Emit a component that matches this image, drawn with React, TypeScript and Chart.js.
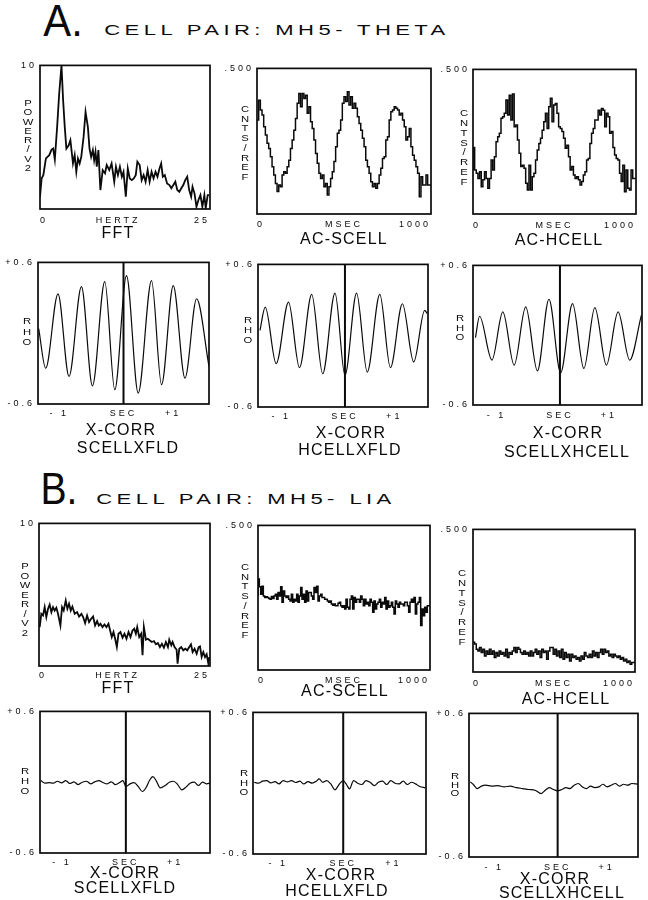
import React, { useEffect, useRef } from 'react';
import { Chart, registerables } from 'chart.js';

Chart.register(...registerables);
Chart.defaults.font.family = '"Liberation Sans", Arial, sans-serif';

// ---------------- data ----------------
// FFT power spectra: [hertz, power]
const fftTheta: [number, number][] = [
  [0, 0.86], [0.24, 2.13], [0.49, 2.36], [0.87, 3.52], [1.36, 3.75], [1.7, 4.14], [1.94, 4.21], [2.18, 3.45],
  [2.52, 5.72], [2.82, 8.03], [3.16, 10.0], [3.4, 7.57], [3.64, 5.72], [3.88, 4.21], [4.22, 4.44], [4.47, 4.79],
  [4.61, 4.21], [4.85, 3.17], [5.1, 3.75], [5.34, 2.59], [5.58, 3.52], [5.83, 3.17], [6.07, 3.63], [6.41, 5.02],
  [6.7, 6.76], [7.04, 5.72], [7.28, 4.21], [7.52, 3.63], [7.77, 4.1], [7.96, 3.4], [8.16, 3.98], [8.35, 2.94],
  [8.59, 4.1], [8.88, 1.32], [9.22, 2.71], [9.56, 2.48], [9.81, 3.06], [10.19, 2.71], [10.53, 3.17], [10.92, 1.9],
  [11.17, 2.94], [11.46, 2.36], [11.75, 2.94], [12.04, 2.25], [12.28, 2.59], [12.62, 0.86], [12.91, 2.82], [13.2, 2.13],
  [13.5, 2.01], [13.79, 2.13], [14.08, 2.36], [14.32, 3.29], [14.66, 3.06], [14.95, 2.01], [15.24, 2.36], [15.53, 1.9],
  [15.83, 2.71], [16.12, 1.9], [16.41, 2.59], [16.7, 2.13], [16.99, 2.59], [17.28, 2.25], [17.57, 2.82], [17.82, 3.17],
  [18.06, 2.25], [18.35, 2.36], [18.69, 1.78], [19.03, 1.67], [19.32, 1.44], [19.61, 1.67], [19.9, 1.9], [20.19, 1.32],
  [20.49, 1.2], [20.78, 1.44], [21.07, 1.67], [21.36, 2.01], [21.65, 2.25], [21.94, 1.32], [22.23, 0.86], [22.43, 1.55],
  [22.72, 1.09], [23.01, 0.16], [23.3, 0.63], [23.59, 0.97], [23.88, 0.16], [24.17, 0.97], [24.37, 0.05], [24.66, 0.97],
  [24.85, 0.97],
];
const fftLia: [number, number][] = [
  [0.1, 2.73], [0.34, 3.66], [0.59, 3.54], [0.83, 4.13], [1.07, 3.43], [1.32, 4.01], [1.56, 4.31], [1.81, 3.78],
  [2.05, 4.13], [2.29, 3.89], [2.54, 4.08], [2.78, 3.66], [3.13, 2.84], [3.37, 4.13], [3.61, 3.89], [3.91, 4.59],
  [4.15, 4.01], [4.39, 4.36], [4.64, 3.89], [4.88, 4.17], [5.22, 3.66], [5.57, 3.78], [5.86, 3.47], [6.2, 3.66],
  [6.45, 3.43], [6.74, 3.01], [7.03, 3.54], [7.32, 3.08], [7.62, 3.31], [7.91, 3.47], [8.2, 2.84], [8.5, 3.15],
  [8.74, 2.84], [8.98, 2.96], [9.28, 2.73], [9.57, 2.91], [9.86, 2.73], [10.16, 2.96], [10.4, 2.49], [10.64, 2.03],
  [10.89, 2.38], [11.13, 1.91], [11.38, 1.33], [11.62, 2.26], [11.91, 2.38], [12.21, 1.98], [12.5, 2.26], [12.79, 1.91],
  [13.09, 2.38], [13.38, 2.03], [13.67, 2.49], [13.92, 2.61], [14.16, 2.26], [14.36, 2.73], [14.65, 2.03], [14.94, 2.26],
  [15.14, 0.75], [15.33, 2.73], [15.63, 1.84], [15.92, 1.91], [16.21, 1.79], [16.5, 1.68], [16.8, 1.75], [17.09, 1.52],
  [17.38, 1.61], [17.68, 1.33], [17.97, 1.56], [18.26, 1.28], [18.55, 1.68], [18.85, 1.33], [19.04, 1.84], [19.34, 1.45],
  [19.53, 1.68], [19.82, 1.33], [20.12, 1.14], [20.26, 0.16], [20.51, 1.21], [20.8, 1.33], [21.09, 1.1], [21.39, 1.21],
  [21.68, 1.1], [21.97, 1.33], [22.22, 1.52], [22.46, 0.98], [22.75, 1.21], [23.05, 0.86], [23.34, 1.33], [23.54, 1.38],
  [23.78, 0.63], [24.02, 0.98], [24.27, 0.63], [24.51, 0.82], [24.76, 0.16], [24.9, 0.63],
];

// Autocorrelation histograms (counts / ref), equal bins across 0..1000 ms
const acScellTheta = [
  0.323, 0.323, 0.391, 0.357, 0.34, 0.3, 0.271, 0.243, 0.225, 0.197, 0.162, 0.134, 0.105, 0.077, 0.1, 0.094,
  0.134, 0.145, 0.14, 0.162, 0.185, 0.225, 0.254, 0.288, 0.328, 0.38, 0.414, 0.368, 0.414, 0.397, 0.408, 0.346,
  0.368, 0.317, 0.294, 0.254, 0.208, 0.174, 0.14, 0.122, 0.134, 0.094, 0.105, 0.065, 0.094, 0.122, 0.145, 0.18,
  0.231, 0.277, 0.288, 0.323, 0.38, 0.403, 0.386, 0.42, 0.374, 0.403, 0.363, 0.38, 0.363, 0.334, 0.311, 0.288,
  0.26, 0.231, 0.185, 0.162, 0.14, 0.111, 0.094, 0.105, 0.088, 0.105, 0.134, 0.157, 0.191, 0.197, 0.254, 0.265,
  0.323, 0.351, 0.357, 0.368, 0.363, 0.357, 0.34, 0.346, 0.323, 0.3, 0.254, 0.265, 0.294, 0.231, 0.202, 0.185,
  0.162, 0.14, 0.059, 0.128, 0.1, 0.1, 0.134, 0.1,
];
const acHcellTheta = [
  0.152, 0.23, 0.152, 0.141, 0.123, 0.146, 0.094, 0.118, 0.146, 0.123, 0.089, 0.123, 0.187, 0.152, 0.198, 0.25,
  0.267, 0.279, 0.331, 0.336, 0.348, 0.394, 0.342, 0.411, 0.325, 0.415, 0.302, 0.308, 0.256, 0.21, 0.164, 0.169,
  0.158, 0.106, 0.083, 0.169, 0.083, 0.129, 0.141, 0.187, 0.221, 0.244, 0.262, 0.29, 0.319, 0.348, 0.296, 0.371,
  0.4, 0.319, 0.377, 0.382, 0.348, 0.302, 0.296, 0.285, 0.262, 0.227, 0.238, 0.198, 0.152, 0.164, 0.135, 0.123,
  0.129, 0.118, 0.1, 0.112, 0.135, 0.146, 0.187, 0.192, 0.244, 0.279, 0.296, 0.325, 0.325, 0.359, 0.342, 0.365,
  0.359, 0.302, 0.348, 0.336, 0.279, 0.285, 0.23, 0.204, 0.192, 0.187, 0.141, 0.112, 0.169, 0.077, 0.152, 0.089,
  0.083, 0.152, 0.123,
];
const acScellLia = [
  0.256, 0.315, 0.288, 0.262, 0.29, 0.256, 0.251, 0.253, 0.251, 0.247, 0.245, 0.254, 0.247, 0.256, 0.262, 0.245,
  0.268, 0.256, 0.288, 0.234, 0.273, 0.256, 0.251, 0.256, 0.245, 0.239, 0.262, 0.234, 0.245, 0.239, 0.262, 0.234,
  0.256, 0.285, 0.245, 0.262, 0.234, 0.273, 0.239, 0.268, 0.268, 0.256, 0.245, 0.285, 0.268, 0.29, 0.239, 0.256,
  0.262, 0.251, 0.251, 0.245, 0.245, 0.239, 0.234, 0.239, 0.228, 0.224, 0.228, 0.222, 0.222, 0.231, 0.234, 0.222,
  0.217, 0.222, 0.211, 0.245, 0.217, 0.211, 0.245, 0.256, 0.211, 0.251, 0.234, 0.245, 0.245, 0.234, 0.256, 0.245,
  0.222, 0.245, 0.228, 0.234, 0.222, 0.245, 0.234, 0.2, 0.239, 0.211, 0.228, 0.234, 0.245, 0.217, 0.234, 0.228,
  0.251, 0.211, 0.239, 0.217, 0.222, 0.234, 0.217, 0.194, 0.239, 0.228, 0.217, 0.234, 0.228, 0.228, 0.222, 0.234,
  0.234, 0.222, 0.2, 0.234, 0.245, 0.234, 0.251, 0.194, 0.228, 0.234, 0.251, 0.154, 0.211, 0.188, 0.217, 0.2,
  0.222,
];
const acHcellLia = [
  0.104, 0.104, 0.098, 0.08, 0.074, 0.086, 0.068, 0.08, 0.056, 0.074, 0.062, 0.08, 0.062, 0.074, 0.051, 0.068,
  0.056, 0.074, 0.062, 0.068, 0.056, 0.08, 0.051, 0.068, 0.062, 0.074, 0.086, 0.068, 0.086, 0.08, 0.068, 0.062,
  0.074, 0.062, 0.068, 0.056, 0.074, 0.056, 0.068, 0.08, 0.062, 0.074, 0.051, 0.08, 0.068, 0.074, 0.045, 0.074,
  0.086, 0.086, 0.062, 0.08, 0.056, 0.074, 0.051, 0.08, 0.045, 0.068, 0.051, 0.062, 0.039, 0.062, 0.051, 0.056,
  0.045, 0.051, 0.039, 0.056, 0.045, 0.068, 0.056, 0.051, 0.062, 0.051, 0.074, 0.056, 0.068, 0.051, 0.068, 0.08,
  0.062, 0.08, 0.068, 0.074, 0.056, 0.062, 0.051, 0.062, 0.056, 0.051, 0.056, 0.045, 0.051, 0.039, 0.045, 0.033,
  0.039, 0.027, 0.033,
];

// Cross-correlations: [lag (normalised, -1..1 of the window), rho]
const xcScellFldTheta: [number, number][] = [
  [-0.992, 0.039], [-0.91, -0.297], [-0.766, 0.334], [-0.637, -0.367], [-0.492, 0.395], [-0.363, -0.446],
  [-0.219, 0.437], [-0.102, -0.479], [0.035, 0.488], [0.172, -0.507], [0.328, 0.446], [0.445, -0.437],
  [0.582, 0.404], [0.719, -0.381], [0.855, 0.292], [1.0, -0.283],
];
const xcHcellFldTheta: [number, number][] = [
  [-1.0, 0.045], [-0.938, 0.241], [-0.809, -0.235], [-0.664, 0.283], [-0.535, -0.269], [-0.391, 0.348],
  [-0.262, -0.32], [-0.117, 0.359], [0, -0.334], [0.137, 0.359], [0.262, -0.306], [0.41, 0.348],
  [0.535, -0.269], [0.676, 0.269], [0.809, -0.221], [0.938, 0.213], [0.969, 0.185],
];
const xcScellHcellTheta: [number, number][] = [
  [-1.0, -0.02], [-0.951, 0.163], [-0.805, -0.214], [-0.676, 0.2], [-0.542, -0.257], [-0.405, 0.243],
  [-0.267, -0.306], [-0.13, 0.309], [0.008, -0.323], [0.149, 0.271], [0.283, -0.286], [0.413, 0.237],
  [0.55, -0.257], [0.688, 0.2], [0.825, -0.214], [0.963, 0.171],
];
const xcScellFldLia: [number, number][] = [
  [-1.0, 0.014], [-0.951, -0.008], [-0.902, -0.003], [-0.854, -0.008], [-0.805, 0.008], [-0.756, -0.006],
  [-0.707, 0.014], [-0.659, -0.011], [-0.61, 0.003], [-0.561, -0.02], [-0.512, 0], [-0.463, 0.008],
  [-0.415, -0.014], [-0.366, 0.003], [-0.317, 0.014], [-0.268, -0.003], [-0.22, -0.014], [-0.171, 0.003],
  [-0.122, -0.02], [-0.073, -0.003], [-0.034, 0.014], [0, -0.037], [0.049, -0.014], [0.098, -0.003],
  [0.146, -0.037], [0.195, -0.079], [0.244, -0.037], [0.278, 0.014], [0.317, 0.048], [0.356, 0.014],
  [0.405, -0.048], [0.463, -0.028], [0.512, 0], [0.561, 0.008], [0.61, -0.02], [0.659, -0.065],
  [0.707, -0.042], [0.756, -0.008], [0.805, 0], [0.854, -0.028], [0.902, 0], [0.951, -0.014], [0.99, -0.008],
];
const xcHcellFldLia: [number, number][] = [
  [-1.029, 0.008], [-0.981, 0], [-0.933, 0.017], [-0.885, 0.022], [-0.837, 0.003], [-0.789, 0.014],
  [-0.742, -0.006], [-0.694, 0.022], [-0.646, 0.011], [-0.598, 0.022], [-0.55, 0.006], [-0.502, 0.017],
  [-0.455, -0.006], [-0.407, 0.014], [-0.359, 0], [-0.311, 0.017], [-0.278, 0.037], [-0.239, 0.008],
  [-0.191, 0.022], [-0.144, -0.006], [-0.096, -0.056], [-0.048, -0.011], [0, 0.022], [0.038, -0.011],
  [0.072, -0.048], [0.12, 0.022], [0.167, 0], [0.215, -0.011], [0.263, 0.022], [0.311, 0.008],
  [0.359, -0.02], [0.407, 0.008], [0.455, 0.017], [0.502, -0.011], [0.55, 0.022], [0.598, 0],
  [0.646, -0.006], [0.694, 0.017], [0.742, -0.011], [0.789, 0.008], [0.837, -0.006], [0.885, -0.028], [0.947, -0.039],
];
const xcScellHcellLia: [number, number][] = [
  [-1.034, 0.028], [-1.0, 0.008], [-0.951, -0.028], [-0.902, -0.008], [-0.854, 0], [-0.78, -0.008],
  [-0.707, -0.003], [-0.634, -0.014], [-0.561, -0.008], [-0.488, -0.02], [-0.415, -0.028], [-0.341, -0.036],
  [-0.268, -0.042], [-0.195, -0.07], [-0.146, -0.042], [-0.098, -0.02], [-0.049, -0.036], [0, -0.047],
  [0.049, -0.036], [0.098, -0.02], [0.146, -0.028], [0.195, 0], [0.244, 0.014], [0.293, -0.014],
  [0.341, -0.028], [0.39, -0.008], [0.439, -0.02], [0.488, -0.014], [0.537, 0.008], [0.585, -0.014],
  [0.634, 0], [0.683, 0.014], [0.732, -0.008], [0.78, 0.008], [0.829, 0], [0.878, 0.014], [0.951, 0.008],
];

// Tick labels
const fftXTickValues = [0, 11.5, 25];
const fftXTickLabels = ['0', 'HERTZ', '25'];
const acXTickValues = [0, 500, 1000];
const acXTickLabels = ['0', 'MSEC', '1000'];
const xcXTickValues = [-0.75, 0, 0.58];
const xcXTickLabels = ['- 1', 'SEC', '+1'];
const fftYTickValues = [10];
const fftYTickLabels = ['10'];
const acYTickValues = [0.5];
const acYTickLabels = ['.500'];
const xcYTickValues = [0.6, -0.6];
const xcYTickLabels = ['+0.6', '-0.6'];

// ---------------- layout ----------------
const L = 40; // room for y tick labels
const T = 8;
const R = 4;
const B = 18;
const FONT = '"Liberation Sans", Arial, sans-serif';
const INK = '#0a0a0a';

type Kind = 'fft' | 'ac' | 'xc';
type PanelDef = {
  kind: Kind;
  box: [number, number, number, number];
  pairs?: [number, number][];
  values?: number[];
  xMin: number;
  xMax: number;
  xPad: number;
};

const panels: PanelDef[] = [
  { kind: 'fft', box: [40, 65, 212, 209], pairs: fftTheta, xMin: 0, xMax: 25, xPad: 6 },
  { kind: 'ac', box: [257, 68, 432, 214], values: acScellTheta, xMin: 0, xMax: 1000, xPad: 5 },
  { kind: 'ac', box: [473, 69, 638, 214], values: acHcellTheta, xMin: 0, xMax: 1000, xPad: 6 },
  { kind: 'xc', box: [38, 262, 209, 404], pairs: xcScellFldTheta, xMin: -1, xMax: 1, xPad: 4 },
  { kind: 'xc', box: [258, 264, 428, 407], pairs: xcHcellFldTheta, xMin: -1.023, xMax: 0.977, xPad: 4 },
  { kind: 'xc', box: [473, 265, 642, 405], pairs: xcScellHcellTheta, xMin: -1.029, xMax: 0.971, xPad: 5 },
  { kind: 'fft', box: [39, 523, 210, 666], pairs: fftLia, xMin: 0, xMax: 25, xPad: 4 },
  { kind: 'ac', box: [258, 525, 431, 670], values: acScellLia, xMin: 0, xMax: 1000, xPad: 5 },
  { kind: 'ac', box: [473, 529, 637, 672], values: acHcellLia, xMin: 0, xMax: 1000, xPad: 6 },
  { kind: 'xc', box: [40, 711, 210, 853], pairs: xcScellFldLia, xMin: -1.01, xMax: 0.99, xPad: 4 },
  { kind: 'xc', box: [253, 712, 426, 854], pairs: xcHcellFldLia, xMin: -1.043, xMax: 0.957, xPad: 4 },
  { kind: 'xc', box: [469, 713, 638, 857], pairs: xcScellHcellLia, xMin: -1.049, xMax: 0.951, xPad: 5 },
];

const framePlugin = {
  id: 'frame',
  beforeDraw(chart: any) {
    chart.ctx.letterSpacing = '3px';
  },
  afterDatasetsDraw(chart: any) {
    const { ctx, chartArea: a } = chart;
    ctx.save();
    ctx.strokeStyle = INK;
    ctx.lineWidth = 1.7;
    ctx.strokeRect(a.left, a.top, a.right - a.left, a.bottom - a.top);
    ctx.restore();
  },
};

function buildConfig(p: PanelDef): any {
  const datasets: any[] = [];
  let yMin = 0, yMax = 10, xtv = fftXTickValues, xtl = fftXTickLabels, ytv = fftYTickValues, ytl = fftYTickLabels;
  if (p.kind === 'fft') {
    datasets.push({
      data: p.pairs!.map(([x, y]) => ({ x, y })),
      borderColor: INK, borderWidth: 1.8, pointRadius: 0, tension: 0,
    });
  } else if (p.kind === 'ac') {
    yMin = 0; yMax = 0.5; xtv = acXTickValues; xtl = acXTickLabels; ytv = acYTickValues; ytl = acYTickLabels;
    const v = p.values!;
    const w = (p.xMax - p.xMin) / v.length;
    const pts = v.map((y, i) => ({ x: p.xMin + i * w, y }));
    pts.push({ x: p.xMax, y: v[v.length - 1] });
    datasets.push({ data: pts, borderColor: INK, borderWidth: 1.5, pointRadius: 0, stepped: 'after' });
  } else {
    yMin = -0.6; yMax = 0.6; xtv = xcXTickValues; xtl = xcXTickLabels; ytv = xcYTickValues; ytl = xcYTickLabels;
    datasets.push({
      data: p.pairs!.map(([x, y]) => ({ x, y })),
      borderColor: INK, borderWidth: 1.2, pointRadius: 0, cubicInterpolationMode: 'monotone',
    });
    datasets.push({
      data: [{ x: 0, y: yMin }, { x: 0, y: yMax }],
      borderColor: INK, borderWidth: 2, pointRadius: 0,
    });
  }
  const tickFont = { family: FONT, size: 9 };
  return {
    type: 'line',
    data: { datasets },
    plugins: [framePlugin],
    options: {
      animation: false,
      responsive: false,
      maintainAspectRatio: false,
      devicePixelRatio: 1,
      layout: { padding: { top: T, right: R, left: 0, bottom: 0 } },
      plugins: { legend: { display: false }, tooltip: { enabled: false }, title: { display: false } },
      scales: {
        x: {
          type: 'linear', min: p.xMin, max: p.xMax,
          grid: { display: false, drawTicks: false }, border: { display: false },
          afterBuildTicks: (s: any) => { s.ticks = xtv.map((value) => ({ value })); },
          afterFit: (s: any) => { s.height = B; },
          ticks: {
            autoSkip: false, maxRotation: 0, minRotation: 0, padding: p.xPad, color: INK, font: tickFont,
            align: p.kind === 'xc' ? 'center' : 'inner',
            callback: (_v: any, i: number) => xtl[i],
          },
        },
        y: {
          type: 'linear', min: yMin, max: yMax,
          grid: { display: false, drawTicks: false }, border: { display: false },
          afterBuildTicks: (s: any) => { s.ticks = ytv.map((value) => ({ value })); },
          afterFit: (s: any) => { s.width = L; },
          ticks: {
            autoSkip: false, padding: 3, color: INK, font: tickFont,
            callback: (_v: any, i: number) => ytl[i],
          },
        },
      },
    },
  };
}

function PanelChart({ p }: { p: PanelDef }) {
  const ref = useRef<HTMLCanvasElement>(null);
  const [l, t, r, b] = p.box;
  const W = L + (r - l) + R;
  const H = T + (b - t) + B;
  useEffect(() => {
    const chart = new Chart(ref.current as HTMLCanvasElement, buildConfig(p));
    return () => chart.destroy();
  }, []);
  return (
    <canvas
      ref={ref}
      width={W}
      height={H}
      style={{ position: 'absolute', left: l - L, top: t - T, width: W, height: H }}
    />
  );
}

function Txt({ x, y, text, size, ls = 0, sx = 1 }: { x: number; y: number; text: string; size: number; ls?: number; sx?: number }) {
  return (
    <div
      style={{
        position: 'absolute', left: x, top: y,
        transform: `translate(-50%, -50%) scaleX(${sx})`,
        fontFamily: FONT, fontSize: size, letterSpacing: ls, lineHeight: 1,
        whiteSpace: 'nowrap', color: INK,
      }}
    >
      {text}
    </div>
  );
}

function Stack({ x, y0, y1, text }: { x: number; y0: number; y1: number; text: string }) {
  const chars = text.split('');
  const step = (y1 - y0) / (chars.length - 1);
  return (
    <>
      {chars.map((c, i) => (
        <Txt key={i} x={x} y={y0 + i * step} text={c} size={9} sx={1.25} />
      ))}
    </>
  );
}

const captions: [number, number, string][] = [
  [118, 233, 'FFT'], [344, 239, 'AC-SCELL'], [559, 240, 'AC-HCELL'],
  [121, 430, 'X-CORR'], [128, 448, 'SCELLXFLD'],
  [351, 433, 'X-CORR'], [350, 450, 'HCELLXFLD'],
  [568, 433, 'X-CORR'], [567, 452, 'SCELLXHCELL'],
  [118, 688, 'FFT'], [345, 691, 'AC-SCELL'], [566, 699, 'AC-HCELL'],
  [125, 873, 'X-CORR'], [125, 888, 'SCELLXFLD'],
  [341, 875, 'X-CORR'], [337, 891, 'HCELLXFLD'],
  [555, 879, 'X-CORR'], [562, 893, 'SCELLXHCELL'],
];

const stacks: [number, number, number, string][] = [
  [28, 103, 168, 'POWER/V2'], [245, 109, 177, 'CNTS/REF'], [464, 113, 182, 'CNTS/REF'],
  [27, 321, 342, 'RHO'], [248, 320, 340, 'RHO'], [460, 318, 337, 'RHO'],
  [25, 566, 633, 'POWER/V2'], [245, 567, 635, 'CNTS/REF'], [462, 573, 642, 'CNTS/REF'],
  [25, 771, 791, 'RHO'], [244, 773, 792, 'RHO'], [455, 776, 793, 'RHO'],
];

export default function App() {
  useEffect(() => {
    document.body.style.margin = '0';
  }, []);
  return (
    <div style={{ position: 'absolute', left: 0, top: 0, width: 648, height: 900, background: '#fff', overflow: 'hidden' }}>
      <Txt x={63} y={21} text="A." size={44} sx={0.95} />
      <Txt x={277} y={29} text="CELL PAIR: MH5- THETA" size={15} ls={3} sx={1.47} />
      <Txt x={59} y={489} text="B." size={44} sx={0.89} />
      <Txt x={246} y={498} text="CELL PAIR: MH5- LIA" size={15} ls={3} sx={1.47} />
      {panels.map((p, i) => (
        <PanelChart key={i} p={p} />
      ))}
      {captions.map(([x, y, s], i) => (
        <Txt key={'c' + i} x={x} y={y} text={s} size={16} ls={1.2} />
      ))}
      {stacks.map(([x, y0, y1, s], i) => (
        <Stack key={'s' + i} x={x} y0={y0} y1={y1} text={s} />
      ))}
    </div>
  );
}
